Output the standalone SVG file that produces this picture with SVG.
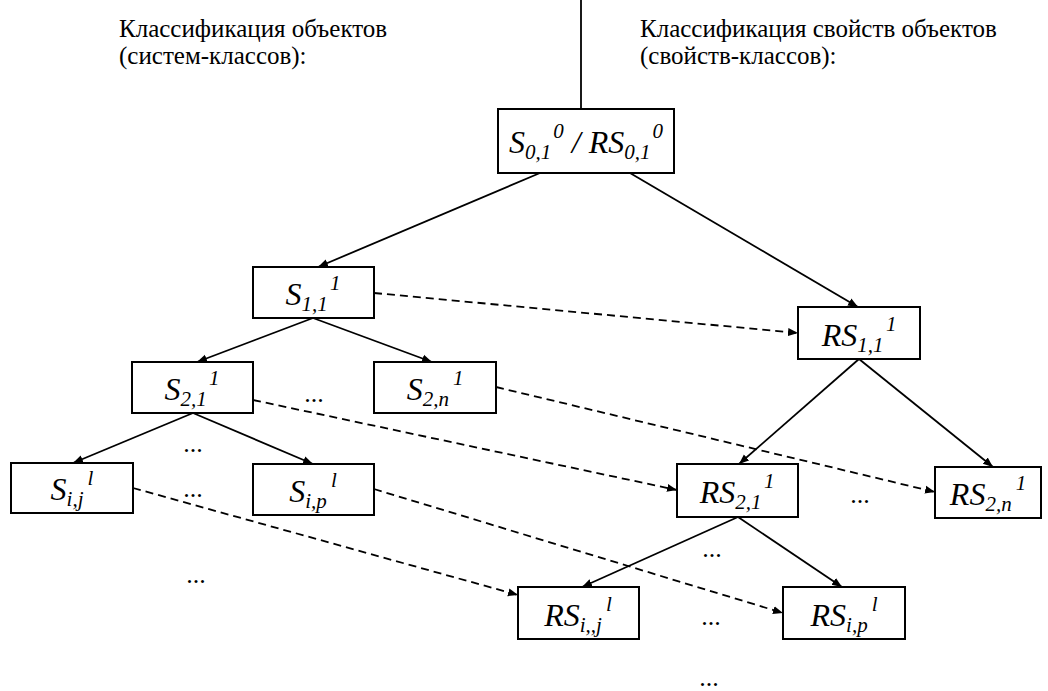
<svg xmlns="http://www.w3.org/2000/svg" width="1048" height="691" viewBox="0 0 1048 691">
<style>
.box{fill:#fff;stroke:#000;stroke-width:2}
.lbl{font-family:"Liberation Serif","DejaVu Serif",serif;font-style:italic;font-size:32px;fill:#000}
.sm{font-size:21px}
.hdr{font-family:"Liberation Serif","DejaVu Serif",serif;font-size:25px;fill:#000}
.dots{font-family:"Liberation Serif","DejaVu Serif",serif;font-size:26px;fill:#000;text-anchor:middle}
.ln{stroke:#000;stroke-width:1.8;fill:none}
.dash{stroke:#000;stroke-width:1.8;fill:none;stroke-dasharray:8 5}
</style>
<defs>
<marker id="ah" viewBox="0 0 10 10" refX="10" refY="5" markerWidth="10" markerHeight="10" markerUnits="userSpaceOnUse" orient="auto">
<path d="M0,1 L10,5 L0,9 Z" fill="#000"/>
</marker>
</defs>
<g id="headers">
<text class="hdr" x="119" y="37" font-family="Liberation Serif, DejaVu Serif, serif">Классификация объектов</text>
<text class="hdr" x="119" y="64" font-family="Liberation Serif, DejaVu Serif, serif">(систем-классов):</text>
<text class="hdr" x="640" y="37" font-family="Liberation Serif, DejaVu Serif, serif">Классификация свойств объектов</text>
<text class="hdr" x="640" y="64" font-family="Liberation Serif, DejaVu Serif, serif">(свойств-классов):</text>
</g>
<g id="connectors">
<line class="ln" x1="581" y1="0" x2="581" y2="109"/>
<line class="ln" x1="540" y1="173" x2="318" y2="267" marker-end="url(#ah)"/>
<line class="ln" x1="630" y1="173" x2="858" y2="307" marker-end="url(#ah)"/>
<line class="ln" x1="313" y1="318" x2="197" y2="362" marker-end="url(#ah)"/>
<line class="ln" x1="313" y1="318" x2="432" y2="362" marker-end="url(#ah)"/>
<line class="ln" x1="193" y1="413" x2="73" y2="463" marker-end="url(#ah)"/>
<line class="ln" x1="193" y1="413" x2="313" y2="464" marker-end="url(#ah)"/>
<line class="ln" x1="859" y1="359" x2="739" y2="464" marker-end="url(#ah)"/>
<line class="ln" x1="859" y1="359" x2="993" y2="467" marker-end="url(#ah)"/>
<line class="ln" x1="738" y1="517" x2="582" y2="587" marker-end="url(#ah)"/>
<line class="ln" x1="738" y1="517" x2="842" y2="587" marker-end="url(#ah)"/>
<line class="dash" x1="374" y1="293" x2="798" y2="333" marker-end="url(#ah)"/>
<line class="dash" x1="253" y1="400" x2="677" y2="490" marker-end="url(#ah)"/>
<line class="dash" x1="496" y1="387" x2="935" y2="492" marker-end="url(#ah)"/>
<line class="dash" x1="133" y1="488" x2="518" y2="595" marker-end="url(#ah)"/>
<line class="dash" x1="374" y1="489" x2="783" y2="613" marker-end="url(#ah)"/>
</g>
<g id="root">
<rect class="box" x="498" y="109" width="176" height="64"/>
<text class="lbl" x="586" y="153" text-anchor="middle">S<tspan class="sm" dy="6">0,1</tspan><tspan class="sm" dx="2" dy="-21">0</tspan><tspan dy="15"> / RS</tspan><tspan class="sm" dy="6">0,1</tspan><tspan class="sm" dx="2" dy="-21">0</tspan></text>
</g>
<g id="S11">
<rect class="box" x="253" y="267" width="121" height="51"/>
<text class="lbl" x="313" y="305" text-anchor="middle">S<tspan class="sm" dy="6">1,1</tspan><tspan class="sm" dx="4" dy="-21">1</tspan></text>
</g>
<g id="RS11">
<rect class="box" x="798" y="307" width="122" height="52"/>
<text class="lbl" x="859" y="346" text-anchor="middle">RS<tspan class="sm" dy="6">1,1</tspan><tspan class="sm" dx="4" dy="-21">1</tspan></text>
</g>
<g id="S21">
<rect class="box" x="132" y="362" width="121" height="51"/>
<text class="lbl" x="192" y="400" text-anchor="middle">S<tspan class="sm" dy="6">2,1</tspan><tspan class="sm" dx="4" dy="-21">1</tspan></text>
</g>
<g id="S2n">
<rect class="box" x="374" y="362" width="122" height="51"/>
<text class="lbl" x="435" y="400" text-anchor="middle">S<tspan class="sm" dy="6">2,n</tspan><tspan class="sm" dx="4" dy="-21">1</tspan></text>
</g>
<g id="Sij">
<rect class="box" x="11" y="463" width="122" height="50"/>
<text class="lbl" x="72" y="500" text-anchor="middle">S<tspan class="sm" dy="6">i,j</tspan><tspan class="sm" dx="4" dy="-21">l</tspan></text>
</g>
<g id="Sip">
<rect class="box" x="253" y="464" width="121" height="51"/>
<text class="lbl" x="313" y="502" text-anchor="middle">S<tspan class="sm" dy="6">i,p</tspan><tspan class="sm" dx="4" dy="-21">l</tspan></text>
</g>
<g id="RS21">
<rect class="box" x="677" y="464" width="121" height="53"/>
<text class="lbl" x="737" y="503" text-anchor="middle">RS<tspan class="sm" dy="6">2,1</tspan><tspan class="sm" dx="4" dy="-21">1</tspan></text>
</g>
<g id="RS2n">
<rect class="box" x="935" y="467" width="106" height="51"/>
<text class="lbl" x="988" y="505" text-anchor="middle">RS<tspan class="sm" dy="6">2,n</tspan><tspan class="sm" dx="4" dy="-21">1</tspan></text>
</g>
<g id="RSij">
<rect class="box" x="518" y="587" width="121" height="52"/>
<text class="lbl" x="578" y="626" text-anchor="middle">RS<tspan class="sm" dy="6">i,,j</tspan><tspan class="sm" dx="4" dy="-21">l</tspan></text>
</g>
<g id="RSip">
<rect class="box" x="783" y="587" width="122" height="52"/>
<text class="lbl" x="844" y="626" text-anchor="middle">RS<tspan class="sm" dy="6">i,p</tspan><tspan class="sm" dx="4" dy="-21">l</tspan></text>
</g>
<g id="ellipses">
<text class="dots" x="314" y="402">...</text>
<text class="dots" x="193" y="452">...</text>
<text class="dots" x="193" y="497">...</text>
<text class="dots" x="196" y="583">...</text>
<text class="dots" x="860" y="503">...</text>
<text class="dots" x="712" y="557">...</text>
<text class="dots" x="711" y="625">...</text>
<text class="dots" x="709" y="686">...</text>
</g>
</svg>
